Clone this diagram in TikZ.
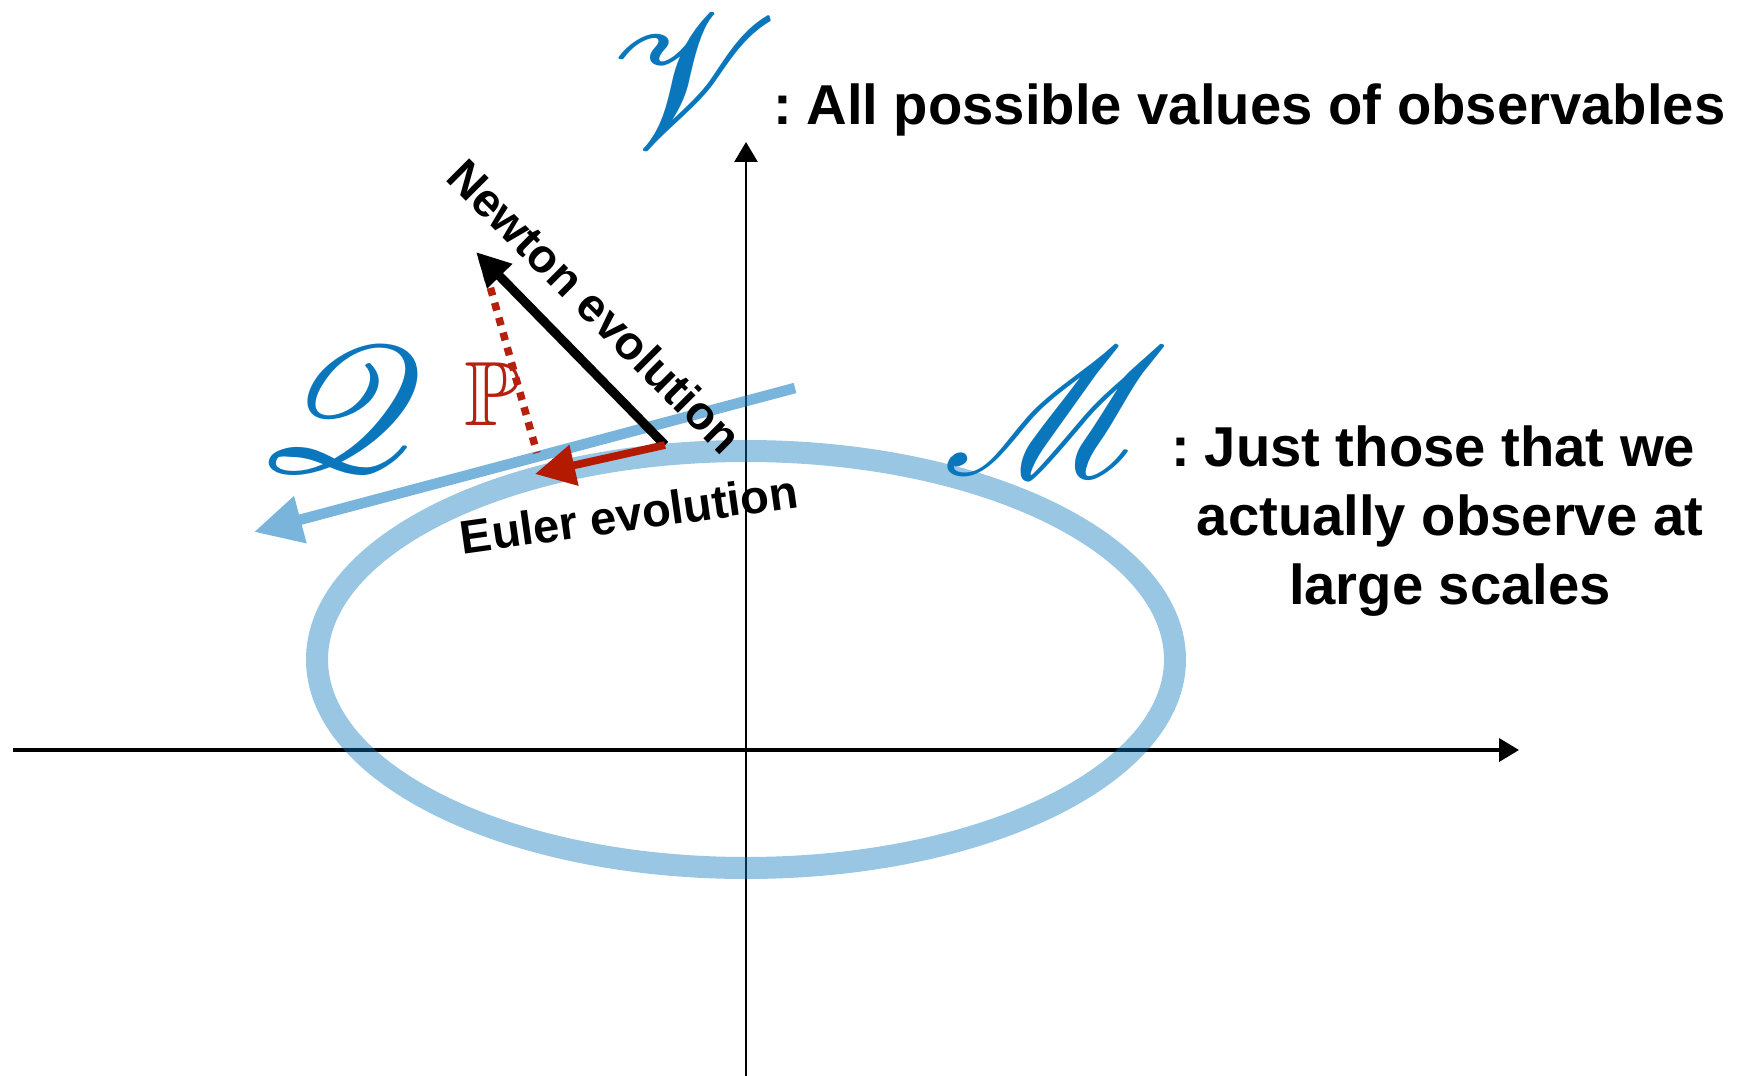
\documentclass[tikz,border=0pt]{standalone}
\usepackage{amsmath,amssymb}
\usepackage{mathrsfs}
\usepackage{graphicx}
\usepackage{fontspec}
\setmainfont{Liberation Sans}
\usetikzlibrary{arrows.meta}
\definecolor{mscript}{HTML}{0A77BD}
\definecolor{meuler}{HTML}{B31A00}
\definecolor{mproj}{HTML}{B5200F}
\tikzset{
  axis/.style={-{Triangle[length=2mm, width=2.3mm]}, black},
  setlabel/.style={text=mscript, inner sep=0pt},
  caption/.style={font=\fontsize{16}{19.6}\selectfont\bfseries, inner sep=0pt},
  evolabel/.style={font=\fontsize{13.4}{15}\selectfont\bfseries, inner sep=0pt},
  newtonarr/.style={-{Triangle[length=3.4mm, width=3.3mm]}, line width=2.6pt, black},
  eulerarr/.style={-{Triangle[length=4mm, width=4mm]}, line width=2.2pt, meuler},
  projline/.style={mproj, line width=0.75mm, dash pattern=on 0.8mm off 0.75mm},
  tangentarr/.style={-{Triangle[length=4.8mm, width=4.6mm]}, line width=3pt, mscript},
  ring/.style={mscript, opacity=0.42, line width=2.2mm},
}

\begin{document}
\begin{tikzpicture}[x=0.1mm, y=-0.1mm]
  \useasboundingbox (0,0) rectangle (1739,1076);

  %% axes
  \coordinate (xorig) at (13,750);
  \coordinate (xend) at (1519,750);
  \coordinate (ybot) at (746,1076);
  \coordinate (ytop) at (746,142);
  \draw[axis, line width=1.1pt] (xorig) -- (xend);
  \draw[axis, line width=0.8pt] (ybot) -- (ytop);

  %% the observed set M
  \draw[ring] (746,659.5) ellipse [x radius=42.9mm, y radius=20.85mm];

  %% tangent direction Q
  \coordinate (qstart) at (795,388);
  \coordinate (qtip) at (254,532);
  \begin{scope}[transparency group, opacity=0.55]
    \draw[tangentarr] (qstart) -- (qtip);
  \end{scope}

  %% Newton and Euler steps
  \coordinate (base) at (665,445);
  \coordinate (ntip) at (476,252);
  \coordinate (etip) at (535,474);
  \coordinate (dtop) at (482,258);
  \coordinate (dfoot) at (537,453);
  \draw[projline] (dtop) -- (dfoot);
  \draw[newtonarr] (base) -- (ntip);
  \draw[eulerarr] (base) -- (etip);

  %% labels
  \node[setlabel] (vset) at (694,82) {\scalebox{5.4}{$\mathscr{V}$}};
  \node[setlabel] (mset) at (1056,412) {\scalebox{5.2}{$\mathscr{M}$}};
  \node[setlabel] (qset) at (342,410) {\scalebox{5.1}{$\mathscr{Q}$}};
  \node[inner sep=0pt, text=mproj] (pproj) at (492,394) {\scalebox{2.6}{$\mathbb{P}$}};
  \node[caption, anchor=base west] (vtext) at (773,125) {:\kern0.25em All possible values of observables};
  \node[caption, align=center] (mtext) at (1450,521) {\llap{:\kern0.25em}Just those that we\\actually observe at\\large scales};
  \node[evolabel, rotate=-45] (newton) at (595,306) {Newton evolution};
  \node[evolabel, rotate=8] (euler) at (629,514) {Euler evolution};

\end{tikzpicture}
\end{document}
